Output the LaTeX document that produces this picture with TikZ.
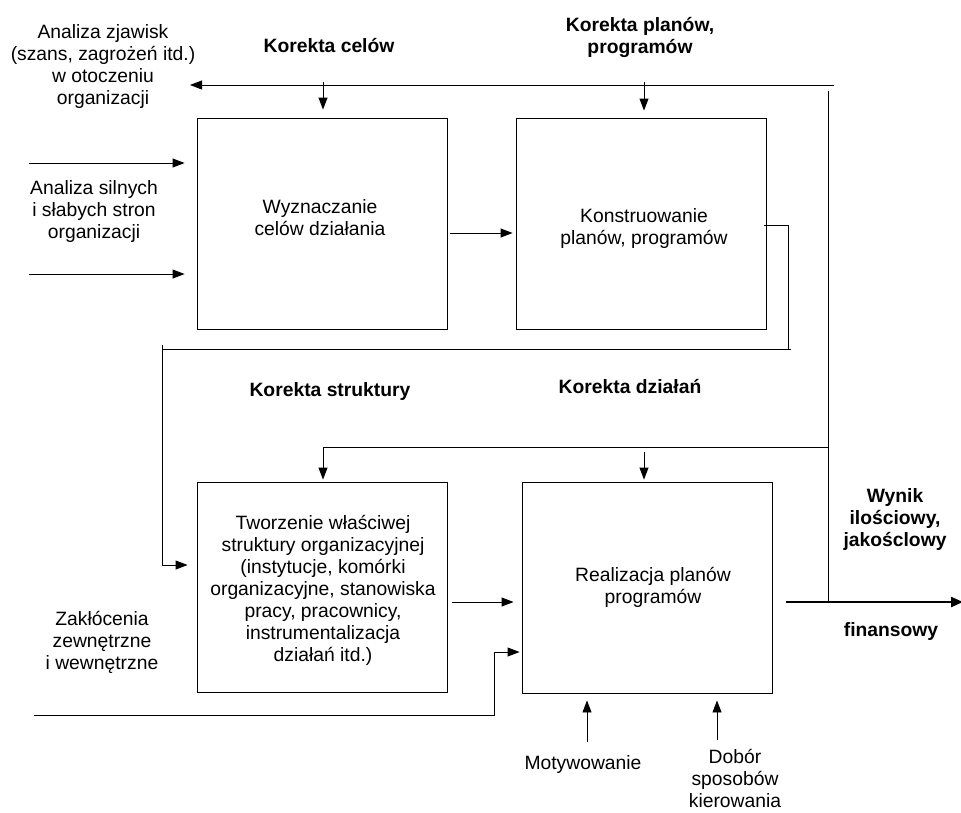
\documentclass[tikz,border=0pt]{standalone}
\usepackage{fontspec}
\setmainfont{Liberation Sans}
\usetikzlibrary{arrows.meta}
\begin{document}
\begin{tikzpicture}[x=1pt,y=-1pt,
  box/.style={draw,line width=0.9pt,minimum width=250pt,minimum height=211pt,inner sep=0pt},
  txt/.style={align=center,inner sep=0pt,font=\fontsize{19.3}{22}\selectfont},
  btxt/.style={align=center,inner sep=0pt,font=\fontsize{19.3}{22}\selectfont\bfseries},
  ln/.style={line width=0.9pt},
  arr/.style={line width=0.9pt,-{Triangle[length=12pt,width=9pt]}},
  thickarr/.style={line width=2.2pt,-{Triangle[length=12pt,width=10pt]}}]
\useasboundingbox (0,0) rectangle (961,812);
% boxes
\node[box] (b1) at (322,223.5) {};
\node[box] (b2) at (641,223.5) {};
\node[box,minimum height=210pt] (b3) at (322,587) {};
\node[box] (b4) at (647,587.5) {};
% box texts
\node[txt] (t1) at (320,218) {Wyznaczanie\\celów działania};
\node[txt] (t2) at (644,229) {Konstruowanie\\planów, programów};
\node[txt] (t3) at (323,590) {Tworzenie właściwej\\struktury organizacyjnej\\(instytucje, komórki\\organizacyjne, stanowiska\\pracy, pracownicy,\\instrumentalizacja\\działań itd.)};
\node[txt] (t4) at (653,587) {Realizacja planów\\programów};
% outside texts
\node[txt] (az) at (103,67) {Analiza zjawisk\\(szans, zagrożeń itd.)\\w otoczeniu\\organizacji};
\node[btxt] (kc) at (329,46) {Korekta celów};
\node[btxt] (kp) at (640,37) {Korekta planów,\\programów};
\node[txt] (as) at (94,212) {Analiza silnych\\i słabych stron\\organizacji};
\node[btxt] (ks) at (330,392) {Korekta struktury};
\node[btxt] (kd) at (630,387) {Korekta działań};
\node[txt] (zk) at (102,642) {Zakłócenia\\zewnętrzne\\i wewnętrzne};
\node[btxt] (wy) at (895,519) {Wynik\\ilościowy,\\jakośclowy};
\node[btxt] (fi) at (891,631) {finansowy};
\node[txt] (mo) at (583,764) {Motywowanie};
\node[txt] (do) at (735,778) {Dobór\\sposobów\\kierowania};
% coordinates
\coordinate (topR) at (834,85);
\coordinate (topL) at (190,85);
\coordinate (vR) at (828,91);
\coordinate (vRb) at (828,602);
\coordinate (in1) at (29,163);
\coordinate (in2) at (29,274);
\coordinate (bot) at (34,715);
\coordinate (outE) at (963,602);
% top feedback line
\draw[arr] (topR) -- (topL);
\draw[ln] (vR) -- (vRb);
\draw[arr] (323,82) -- ([yshift=8pt]b1.north -| 323,0);
\draw[arr] (644,82) -- ([yshift=7pt]b2.north -| 644,0);
% inputs to box 1
\draw[arr] (in1) -- ([xshift=-12pt]b1.west |- in1);
\draw[arr] (in2) -- ([xshift=-12pt]b1.west |- in2);
% box1 -> box2
\draw[arr] ([xshift=3pt]b1.east |- 0,233) -- ([xshift=-3pt]b2.west |- 0,233);
% box2 -> box3 loop
\draw[ln] ([xshift=-2pt]b2.east |- 0,225) -- (788,225) -- (788,349);
\draw[ln] (791,349) -- (162,349);
\draw[arr] (162,345) -- (162,565) -- ([xshift=-9pt]b3.west |- 0,565);
% correction line to lower row
\draw[ln] (vR |- 0,447) -- (323,447);
\draw[arr] (323,447) -- ([yshift=2pt]b3.north -| 323,0);
\draw[arr] (644,452) -- ([yshift=2pt]b4.north -| 644,0);
% box3 -> box4
\draw[arr] ([xshift=5pt]b3.east |- 0,602) -- ([xshift=-8pt]b4.west |- 0,602);
% disturbances
\draw[arr] (bot) -- (494,715) -- (494,652) -- ([xshift=-2pt]b4.west |- 0,652);
% output
\draw[thickarr] ([xshift=14pt]b4.east |- 0,602) -- (outE);
% bottom inputs
\draw[arr] (587,742) -- ([yshift=-7pt]b4.south -| 587,0);
\draw[arr] (717,740) -- ([yshift=-7pt]b4.south -| 717,0);
\end{tikzpicture}
\end{document}
